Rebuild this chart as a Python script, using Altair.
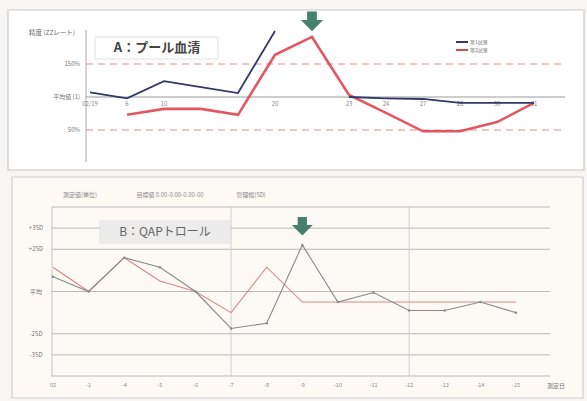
import altair as alt
import pandas as pd

# ---------------- Panel A: pooled serum (percent of mean) ----------------
a_labels = ["02/19", "6", "10", "", "", "20", "", "23", "24", "27", "28", "30", "31"]
a_navy = [107, 98, 124, 115, 106, 220, None, 100, 98, 97, 91, 91, 91]
a_red = [None, 73, 82, 82, 73, 164, 191, 103, 76, 48, 48, 62, 91]
a_limits = [50, 150]
a_center = 100
a_tick_vals = [150, 100, 50]
a_tick_text = ["150%", "平均値 (1)", "50%"]
a_event = 6
a_title = "A：プール血清"
a_unit = "精度 (ZZレート)"
a_legend = ["第1試薬", "第2試薬"]

# ---------------- Panel B: control (SD units) ----------------
b_labels = ["02", "-1", "-4", "-5", "-6", "-7", "-8", "-9", "-10", "-11", "-12", "-13", "-14", "-15"]
b_gray = [0.7, 0.0, 1.6, 1.15, 0.0, -1.75, -1.5, 2.2, -0.5, -0.05, -0.9, -0.9, -0.5, -1.0]
b_pink = [1.15, 0.0, 1.6, 0.5, 0.0, -1.0, 1.15, -0.5, -0.5, -0.5, -0.5, -0.5, -0.5, -0.5]
b_grid = [4, 3, 2, 0, -2, -3, -4]
b_tick_vals = [3, 2, 0, -2, -3]
b_tick_text = ["+3SD", "+2SD", "平均", "-2SD", "-3SD"]
b_vlines = [5, 10]
b_event = 7
b_title = "B：QAPトロール"
b_header = ["測定値(単位)", "目標値 0.00-0.00-0.00-00", "管理幅(SD)"]
b_xname = "測定日"

JP = "Noto Sans CJK JP"
one = pd.DataFrame({"k": [0]})


def ax_a():
    return alt.X("i:Q", scale=alt.Scale(domain=[0, 12], range=[90, 534], nice=False, zero=False), axis=None)


def ay_a(field="v", clamp=False):
    return alt.Y(f"{field}:Q", scale=alt.Scale(domain=[0, 200], range=[163, 31], nice=False, zero=False, clamp=clamp), axis=None)


def ax_b():
    return alt.X("i:Q", scale=alt.Scale(domain=[0, 13], range=[53, 516], nice=False, zero=False), axis=None)


def ay_b(field="v"):
    return alt.Y(f"{field}:Q", scale=alt.Scale(domain=[-4, 4], range=[376, 207], nice=False, zero=False), axis=None)


def box(x, x2, y, y2, fill, stroke, sw=1):
    return alt.Chart(one).mark_rect(fill=fill, stroke=stroke, strokeWidth=sw).encode(
        x=alt.value(x), x2=alt.value(x2), y=alt.value(y), y2=alt.value(y2))


def vrule(x, y, y2, color, sw=1):
    return alt.Chart(one).mark_rule(color=color, strokeWidth=sw).encode(
        x=alt.value(x), y=alt.value(y), y2=alt.value(y2))


def label(txt, x, y, size, color="#777", align="center", weight="normal"):
    return alt.Chart(pd.DataFrame({"t": [txt]})).mark_text(
        font=JP, fontSize=size, color=color, align=align, baseline="middle", fontWeight=weight
    ).encode(x=alt.value(x), y=alt.value(y), text="t:N")


# downward block arrow used to flag the event day
arrow_shape = "M-0.45,-1 L0.45,-1 L0.45,0 L1,0 L0,1 L-1,0 L-0.45,0 Z"

# ---------- tables ----------
navy_rows = [{"i": i, "v": v, "seg": 0 if i <= a_event else 1} for i, v in enumerate(a_navy) if v is not None]
red_rows = [{"i": i, "v": v} for i, v in enumerate(a_red) if v is not None]
df_navy = pd.DataFrame(navy_rows)
df_red = pd.DataFrame(red_rows)
df_a_lab = pd.DataFrame({"i": list(range(len(a_labels))), "t": a_labels, "v": [a_center] * len(a_labels)})
df_a_lim = pd.DataFrame({"v": a_limits})
df_a_ctr = pd.DataFrame({"v": [a_center]})
df_a_ticks = pd.DataFrame({"v": a_tick_vals, "t": a_tick_text})
df_a_evt = pd.DataFrame({"i": [a_event], "v": [215]})

n_b = len(b_gray)
df_b = pd.DataFrame({
    "i": list(range(n_b)) * 2,
    "v": b_gray + b_pink,
    "s": ["gray"] * n_b + ["pink"] * n_b,
})
df_b_grid = pd.DataFrame({"v": b_grid})
df_b_ticks = pd.DataFrame({"v": b_tick_vals, "t": b_tick_text})
df_b_lab = pd.DataFrame({"i": list(range(n_b)), "t": b_labels, "v": [-4] * n_b})
df_b_vl = pd.DataFrame({"i": b_vlines})
df_b_evt = pd.DataFrame({"i": [b_event], "v": [3.1]})

layers = []

# ---------- panel frames ----------
layers.append(box(8, 584, 10, 170, "#ffffff", "#c9c9c9", 1.2))
layers.append(box(12, 583, 177, 398, "#fdfaf6", "#cfcfcf", 1.2))

# ---------- panel A ----------
layers.append(vrule(86, 30, 162, "#a8a8a8", 1))
layers.append(alt.Chart(df_a_lim).mark_rule(color="#e58a8a", strokeWidth=1, strokeDash=[7, 5]).encode(
    x=alt.value(86), x2=alt.value(565), y=ay_a()))
layers.append(alt.Chart(df_a_ctr).mark_rule(color="#9a9a9a", strokeWidth=1).encode(
    x=alt.value(86), x2=alt.value(565), y=ay_a()))
layers.append(alt.Chart(df_a_ticks).mark_text(font=JP, fontSize=6, color="#777", align="right", baseline="middle").encode(
    x=alt.value(80), y=ay_a(), text="t:N"))
layers.append(label(a_unit, 52, 33, 6.5, "#666"))
layers.append(alt.Chart(df_a_lab).mark_text(font=JP, fontSize=6, color="#888", baseline="top", dy=4).encode(
    x=ax_a(), y=ay_a(), text="t:N"))
layers.append(alt.Chart(df_red).mark_line(color="#e0464f", strokeWidth=2.6, opacity=0.9).encode(
    x=ax_a(), y=ay_a()))
layers.append(alt.Chart(df_navy).mark_line(color="#2f3a6b", strokeWidth=1.8).encode(
    x=ax_a(), y=ay_a(clamp=True), detail="seg:N"))
layers.append(alt.Chart(df_a_evt).mark_point(shape=arrow_shape, size=300, filled=True, fill="#3e7a66", stroke="#3e7a66", opacity=0.95).encode(
    x=ax_a(), y=ay_a(clamp=False)))
layers.append(box(95, 218, 37, 59, "#ffffff", "#e2e2e2"))
layers.append(label(a_title, 157, 48, 13, "#444", weight="bold"))
# legend
layers.append(alt.Chart(one).mark_rule(color="#2f3a6b", strokeWidth=2).encode(
    x=alt.value(456), x2=alt.value(468), y=alt.value(42)))
layers.append(alt.Chart(one).mark_rule(color="#e0464f", strokeWidth=2).encode(
    x=alt.value(456), x2=alt.value(468), y=alt.value(50)))
layers.append(label(a_legend[0], 470, 42, 5, "#777", align="left"))
layers.append(label(a_legend[1], 470, 50, 5, "#777", align="left"))

# ---------- panel B ----------
layers.append(alt.Chart(df_b_grid).mark_rule(color="#b9b9b9", strokeWidth=1).encode(
    x=alt.value(52), x2=alt.value(550), y=ay_b()))
layers.append(vrule(52, 207, 377, "#c4c4c4", 1))
layers.append(alt.Chart(df_b_vl).mark_rule(color="#cfcfcf", strokeWidth=1).encode(
    x=ax_b(), y=alt.value(207), y2=alt.value(376)))
layers.append(alt.Chart(df_b_ticks).mark_text(font=JP, fontSize=6, color="#777", align="center", baseline="middle").encode(
    x=alt.value(36), y=ay_b(), text="t:N"))
layers.append(alt.Chart(df_b_lab).mark_text(font=JP, fontSize=5.5, color="#888", baseline="top", dy=7).encode(
    x=ax_b(), y=ay_b(), text="t:N"))
layers.append(label(b_xname, 556, 386, 6, "#777"))
layers.append(label(b_header[0], 80, 195, 6, "#888"))
layers.append(label(b_header[1], 170, 195, 6, "#888"))
layers.append(label(b_header[2], 251, 195, 6, "#888"))
layers.append(alt.Chart(df_b).transform_filter("datum.s == 'pink'").mark_line(color="#d98585", strokeWidth=1.1).encode(
    x=ax_b(), y=ay_b()))
layers.append(alt.Chart(df_b).transform_filter("datum.s == 'gray'").mark_line(color="#8a8a8a", strokeWidth=1.1, point=alt.OverlayMarkDef(size=6, color="#8a8a8a")).encode(
    x=ax_b(), y=ay_b()))
layers.append(alt.Chart(df_b_evt).mark_point(shape=arrow_shape, size=260, filled=True, fill="#3e7a66", stroke="#3e7a66", opacity=0.95).encode(
    x=ax_b(), y=ay_b()))
layers.append(box(100, 230, 221, 243, "#ececec", "#e4e4e4"))
layers.append(label(b_title, 165, 232, 12, "#666"))

chart = alt.layer(*layers).resolve_scale(x="independent", y="independent").properties(
    width=587, height=401, padding=0, autosize="none", background="#f7f6f4"
).configure_view(stroke=None)

chart.save("out.html", embed_options={"renderer": "svg", "actions": False})
